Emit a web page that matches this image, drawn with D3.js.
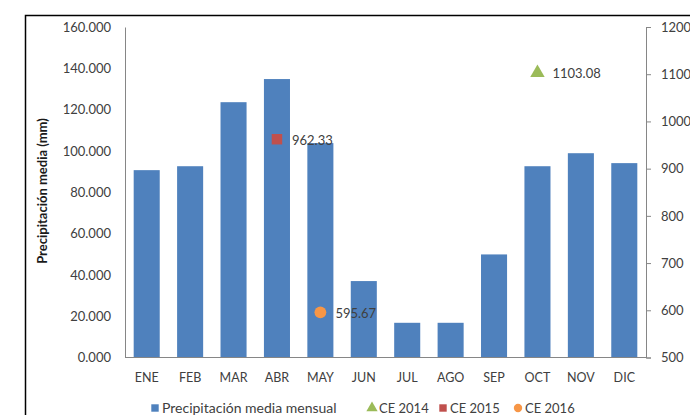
<!DOCTYPE html>
<html><head><meta charset="utf-8">
<script src="https://cdn.jsdelivr.net/npm/d3@7"></script>
<style>body{margin:0;background:#fff}svg{display:block}text{font-family:Lato,"Open Sans",sans-serif}</style>
</head><body><svg id="c" width="690" height="415"></svg>
<script>
const months = ["ENE","FEB","MAR","ABR","MAY","JUN","JUL","AGO","SEP","OCT","NOV","DIC"];
const precip = [90.7,92.6,123.6,134.8,103.8,37.0,16.8,16.8,49.9,92.6,98.9,94.1];
const leftTicks = [0,20,40,60,80,100,120,140,160];
const rightTicks = [500,600,700,800,900,1000,1100,1200];
const ceSeries = [
  {name:"CE 2014", month:"OCT", value:1103.08},
  {name:"CE 2015", month:"ABR", value:962.33},
  {name:"CE 2016", month:"MAY", value:595.67}
];
const ceColors = {"CE 2014":"#9bbb59","CE 2015":"#c0504d","CE 2016":"#f79646"};
const ceShapes = {"CE 2014":d3.symbolTriangle,"CE 2015":d3.symbolSquare,"CE 2016":d3.symbolCircle};

const svg = d3.select("#c");
const L=125,R=646,T=27,B=357.5;
const x = d3.scaleBand().domain(months).range([L,R]).paddingInner(0.4).paddingOuter(0.2);
const y = d3.scaleLinear().domain([0,160]).range([B,T]);
const y2 = d3.scaleLinear().domain([500,1200]).range([B,T]);
const txt="#404040", ax="#868686";

// frame
svg.append("path").attr("d","M25.5,420V15.5H700").attr("fill","none").attr("stroke","#000").attr("stroke-width",1.5);

// bars
svg.append("g").selectAll("rect").data(precip).join("rect")
  .attr("x",(d,i)=>x(months[i])).attr("width",x.bandwidth())
  .attr("y",d=>y(d)).attr("height",d=>y(0)-y(d)).attr("fill","#4f81bd");

// left axis
const gl = svg.append("g").attr("transform",`translate(${L},0)`)
  .call(d3.axisLeft(y).tickValues(leftTicks).tickSize(0).tickPadding(14).tickFormat(d3.format(".3f")));
gl.select(".domain").attr("stroke",ax);
gl.selectAll("text").attr("fill",txt).attr("font-size",13);

// bottom axis
const gb = svg.append("g").attr("transform",`translate(0,${B})`)
  .call(d3.axisBottom(x).tickSize(0).tickPadding(16));
gb.select(".domain").attr("stroke",ax).attr("d",`M${L},0H${R}`);
gb.selectAll("text").attr("fill",txt).attr("font-size",12.5);

// right axis
const gr = svg.append("g").attr("transform",`translate(${R},0)`)
  .call(d3.axisRight(y2).tickValues(rightTicks).tickSize(5).tickPadding(10).tickFormat(d3.format("d")));
gr.select(".domain").attr("stroke",ax);
gr.selectAll("line").attr("stroke",ax);
gr.selectAll("text").attr("fill",txt).attr("font-size",13);

// y title
svg.append("text").attr("transform","translate(47,191) rotate(-90)")
  .attr("text-anchor","middle").attr("font-weight","bold").attr("font-size",13)
  .attr("fill","#1a1a1a").text("Precipitación media (mm)");

// CE markers
const gm = svg.append("g");
ceSeries.forEach(d=>{
  const cx = x(d.month)+x.bandwidth()/2, cy = y2(d.value);
  gm.append("path").attr("d",d3.symbol().type(ceShapes[d.name]).size(d.name==="CE 2014"?90:110)())
    .attr("transform",`translate(${cx},${cy})`).attr("fill",ceColors[d.name]);
  gm.append("text").attr("x",cx+15).attr("y",cy+1).attr("dy","0.35em")
    .attr("font-size",13).attr("fill",txt).text(d3.format(".2f")(d.value));
});

// legend
const leg = [
  {name:"Precipitación media mensual", shape:d3.symbolSquare, color:"#4f81bd"},
  ...ceSeries.map(d=>({name:d.name, shape:ceShapes[d.name], color:ceColors[d.name]}))
];
const ly=408;
const lxs=[151,368,439,514];
leg.forEach((d,i)=>{
  const lx=lxs[i];
  svg.append("path").attr("d",d3.symbol().type(d.shape).size(55)())
    .attr("transform",`translate(${lx+4},${ly})`).attr("fill",d.color);
  svg.append("text").attr("x",lx+11).attr("y",ly).attr("dy","0.35em")
    .attr("font-size",i===0?14:13).attr("fill",txt).text(d.name);
});
</script></body></html>
